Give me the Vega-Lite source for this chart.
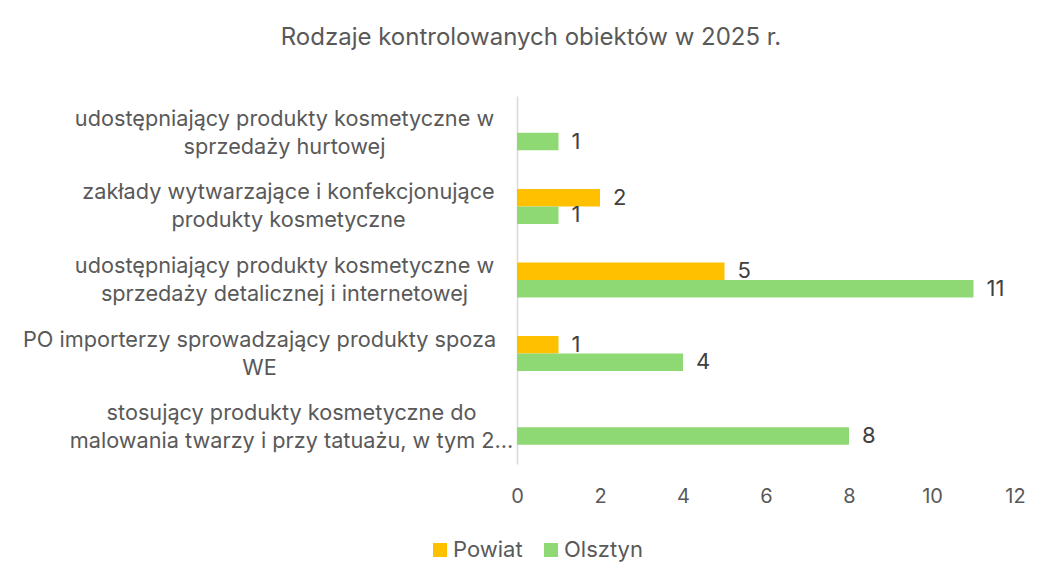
{
  "$schema": "https://vega.github.io/schema/vega-lite/v6.json",
  "autosize": "none",
  "width": 498,
  "height": 368,
  "padding": {"left": 517, "top": 96, "right": 29, "bottom": 117},
  "background": "white",
  "config": {
    "font": "Inter",
    "view": {"stroke": null}
  },
  "title": {
    "text": "Rodzaje kontrolowanych obiektów w 2025 r.",
    "font": "Inter",
    "fontSize": 24,
    "fontWeight": "normal",
    "color": "#595959",
    "anchor": "middle",
    "frame": "group",
    "dx": -235,
    "baseline": "alphabetic",
    "offset": 27
  },
  "data": {
    "values": [
      {"kategoria": "udostępniający produkty kosmetyczne w|sprzedaży hurtowej", "seria": "Olsztyn", "wartosc": 1},
      {"kategoria": "zakłady wytwarzające i konfekcjonujące|produkty kosmetyczne", "seria": "Powiat", "wartosc": 2},
      {"kategoria": "zakłady wytwarzające i konfekcjonujące|produkty kosmetyczne", "seria": "Olsztyn", "wartosc": 1},
      {"kategoria": "udostępniający produkty kosmetyczne w|sprzedaży detalicznej i internetowej", "seria": "Powiat", "wartosc": 5},
      {"kategoria": "udostępniający produkty kosmetyczne w|sprzedaży detalicznej i internetowej", "seria": "Olsztyn", "wartosc": 11},
      {"kategoria": "PO importerzy sprowadzający produkty spoza|WE", "seria": "Powiat", "wartosc": 1},
      {"kategoria": "PO importerzy sprowadzający produkty spoza|WE", "seria": "Olsztyn", "wartosc": 4},
      {"kategoria": "stosujący produkty kosmetyczne do|malowania twarzy i przy tatuażu, w tym 2...", "seria": "Olsztyn", "wartosc": 8}
    ]
  },
  "encoding": {
    "y": {
      "field": "kategoria",
      "type": "nominal",
      "sort": [
        "udostępniający produkty kosmetyczne w|sprzedaży hurtowej",
        "zakłady wytwarzające i konfekcjonujące|produkty kosmetyczne",
        "udostępniający produkty kosmetyczne w|sprzedaży detalicznej i internetowej",
        "PO importerzy sprowadzający produkty spoza|WE",
        "stosujący produkty kosmetyczne do|malowania twarzy i przy tatuażu, w tym 2..."
      ],
      "scale": {"paddingInner": 0.525, "paddingOuter": 0.2625},
      "axis": {
        "title": null,
        "ticks": false,
        "grid": false,
        "domainColor": "#D9D9D9",
        "domainWidth": 1.5,
        "labelExpr": "split(datum.value, '|')",
        "labelAlign": "center",
        "labelBaseline": "middle",
        "labelLineHeight": 28,
        "labelOffset": -14,
        "labelFont": "Inter",
        "labelFontSize": 21.7,
        "labelColor": "#595959",
        "labelLimit": 0,
        "labelPadding": {
          "condition": [
            {"test": "indexof(datum.value, 'PO importerzy') == 0", "value": 258},
            {"test": "indexof(datum.value, 'zakłady') == 0", "value": 229},
            {"test": "indexof(datum.value, 'stosujący') == 0", "value": 226}
          ],
          "value": 233
        }
      }
    },
    "yOffset": {
      "field": "seria",
      "type": "nominal",
      "sort": ["Powiat", "Olsztyn"],
      "scale": {"paddingInner": 0, "paddingOuter": 0}
    },
    "x": {
      "field": "wartosc",
      "type": "quantitative",
      "scale": {"domain": [0, 12], "nice": false},
      "axis": {
        "title": null,
        "values": [0, 2, 4, 6, 8, 10, 12],
        "grid": false,
        "ticks": false,
        "domain": false,
        "labelPadding": 22,
        "labelFont": "Inter",
        "labelFontSize": 20,
        "labelColor": "#595959",
        "labelFlush": false
      }
    }
  },
  "layer": [
    {
      "mark": {"type": "bar"},
      "encoding": {
        "color": {
          "field": "seria",
          "type": "nominal",
          "scale": {"domain": ["Powiat", "Olsztyn"], "range": ["#FFC000", "#8FD974"]},
          "legend": {
            "title": null,
            "orient": "none",
            "direction": "horizontal",
            "legendX": -88,
            "legendY": 443,
            "padding": 0,
            "symbolType": "square",
            "symbolSize": 196,
            "symbolStrokeWidth": 0,
            "labelFont": "Inter",
            "labelFontSize": 22,
            "labelColor": "#595959",
            "labelOffset": 2,
            "columnPadding": 17
          }
        }
      }
    },
    {
      "mark": {"type": "text", "align": "left", "baseline": "middle", "dx": 13, "font": "Inter", "fontSize": 22, "color": "#404040"},
      "encoding": {
        "text": {"field": "wartosc", "type": "quantitative"}
      }
    }
  ]
}
